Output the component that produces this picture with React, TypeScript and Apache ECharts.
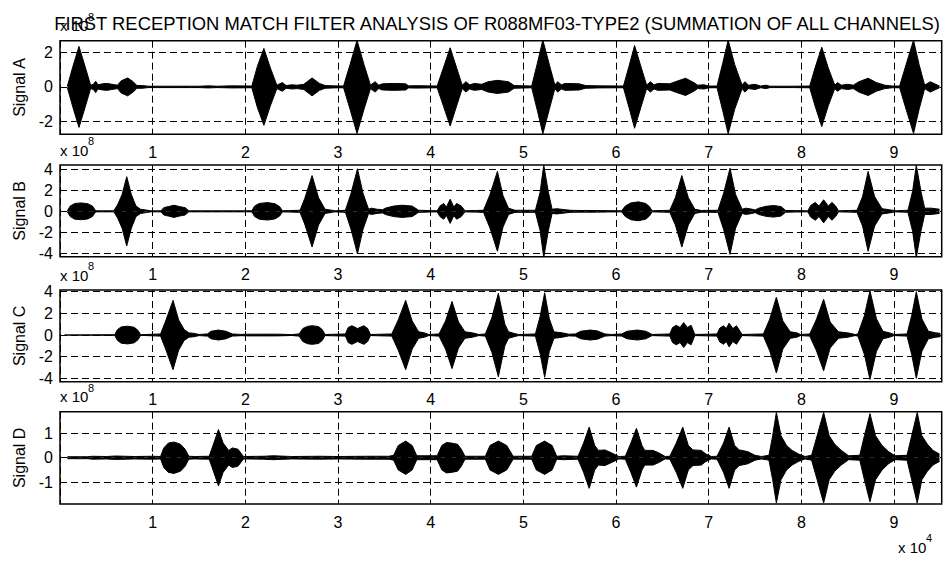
import React, { useEffect, useRef } from "react";
import * as echarts from "echarts";

// ---- values (x in units of 10^4 samples, amplitude in units of 10^8) ----
const TITLE = "FIRST RECEPTION MATCH FILTER ANALYSIS OF R088MF03-TYPE2 (SUMMATION OF ALL CHANNELS)";
const signalNames = ["Signal A", "Signal B", "Signal C", "Signal D"];
const xTickLabels = ["1", "2", "3", "4", "5", "6", "7", "8", "9"];
const yTicksA = [-2, 0, 2];
const yTicksB = [-4, -2, 0, 2, 4];
const yTicksC = [-4, -2, 0, 2, 4];
const yTicksD = [-1, 0, 1];
const yRangeA = [-2.75, 2.68];
const yRangeB = [-4.32, 4.41];
const yRangeC = [-4.31, 4.16];
const yRangeD = [-1.89, 1.88];
const xMax = 9.514;
const yExponent = "8";
const xExponent = "4";

// envelope of each signal: [x, amplitude]
const signalA: [number, number][] = [
  [0.08, 0.05], [0.14, 1.2], [0.205, 2.35], [0.27, 1.2], [0.33, 0.1], [0.36, 0.15], [0.385, 0.33], [0.41, 0.12],
  [0.46, 0.18], [0.51, 0.2], [0.56, 0.15], [0.62, 0.1], [0.66, 0.35], [0.73, 0.52], [0.79, 0.3], [0.83, 0.08],
  [0.89, 0.08], [0.95, 0.04], [1.5, 0.04], [1.6, 0.06], [1.7, 0.04], [1.85, 0.06], [2.07, 0.05], [2.13, 1.2],
  [2.2, 2.23], [2.27, 1.1], [2.34, 0.1], [2.4, 0.25], [2.44, 0.08], [2.5, 0.12], [2.56, 0.1], [2.63, 0.15],
  [2.72, 0.52], [2.8, 0.2], [2.86, 0.08], [2.95, 0.06], [3.06, 0.05], [3.13, 1.3], [3.205, 2.7], [3.28, 1.3],
  [3.35, 0.1], [3.4, 0.3], [3.44, 0.1], [3.48, 0.18], [3.6, 0.2], [3.73, 0.18], [3.76, 0.06], [3.85, 0.07],
  [4.07, 0.05], [4.14, 1.15], [4.21, 2.27], [4.28, 1.1], [4.34, 0.1], [4.38, 0.3], [4.42, 0.12], [4.47, 0.2],
  [4.55, 0.15], [4.62, 0.3], [4.72, 0.38], [4.84, 0.3], [4.9, 0.08], [5.09, 0.05], [5.15, 1.35], [5.21, 2.72],
  [5.28, 1.3], [5.34, 0.1], [5.37, 0.3], [5.41, 0.12], [5.45, 0.2], [5.6, 0.18], [5.67, 0.08], [5.8, 0.06],
  [6.08, 0.05], [6.14, 1.2], [6.2, 2.4], [6.27, 1.15], [6.33, 0.1], [6.37, 0.3], [6.41, 0.12], [6.45, 0.2],
  [6.58, 0.18], [6.64, 0.3], [6.75, 0.5], [6.84, 0.25], [6.88, 0.1], [6.95, 0.12], [7.0, 0.05], [7.09, 0.05],
  [7.15, 1.35], [7.21, 2.72], [7.28, 1.3], [7.36, 0.1], [7.39, 0.3], [7.43, 0.1], [7.5, 0.15], [7.56, 0.05],
  [7.62, 0.1], [7.66, 0.04], [7.9, 0.04], [8.09, 0.05], [8.15, 1.15], [8.22, 2.3], [8.29, 1.1], [8.36, 0.1],
  [8.39, 0.25], [8.43, 0.1], [8.5, 0.15], [8.56, 0.1], [8.62, 0.3], [8.72, 0.5], [8.81, 0.25], [8.9, 0.1],
  [8.98, 0.05], [9.06, 0.05], [9.13, 1.3], [9.21, 2.7], [9.27, 1.3], [9.33, 0.1], [9.39, 0.3], [9.45, 0.15],
  [9.49, 0.05],
];

const signalB: [number, number][] = [
  [0.08, 0.05], [0.11, 0.5], [0.16, 0.75], [0.23, 0.8], [0.3, 0.72], [0.35, 0.5], [0.385, 0.05], [0.58, 0.05],
  [0.62, 0.6], [0.67, 1.6], [0.72, 3.3], [0.77, 1.6], [0.82, 0.5], [0.87, 0.2], [0.93, 0.12], [0.98, 0.05],
  [1.09, 0.05], [1.12, 0.35], [1.17, 0.45], [1.23, 0.58], [1.29, 0.45], [1.35, 0.35], [1.39, 0.05], [2.07, 0.05],
  [2.1, 0.5], [2.15, 0.75], [2.24, 0.83], [2.32, 0.72], [2.37, 0.45], [2.4, 0.05], [2.59, 0.1], [2.64, 1.2],
  [2.72, 3.4], [2.79, 1.3], [2.86, 0.2], [2.97, 0.05], [3.08, 0.1], [3.14, 1.7], [3.21, 4.05], [3.27, 1.7],
  [3.33, 0.2], [3.36, 0.3], [3.42, 0.2], [3.48, 0.15], [3.51, 0.3], [3.6, 0.5], [3.69, 0.58], [3.8, 0.5],
  [3.87, 0.1], [4.07, 0.05], [4.1, 0.5], [4.14, 0.75], [4.17, 0.4], [4.21, 1.15], [4.25, 0.4], [4.28, 0.75],
  [4.33, 0.5], [4.37, 0.05], [4.57, 0.1], [4.64, 1.6], [4.72, 3.8], [4.78, 1.5], [4.84, 0.3], [4.91, 0.1],
  [5.13, 0.1], [5.18, 1.8], [5.22, 4.4], [5.27, 1.8], [5.31, 0.2], [5.36, 0.25], [5.45, 0.15], [5.51, 0.1],
  [5.6, 0.08], [5.75, 0.08], [6.06, 0.05], [6.1, 0.5], [6.16, 0.8], [6.24, 0.9], [6.32, 0.75], [6.36, 0.45],
  [6.39, 0.05], [6.58, 0.1], [6.64, 1.3], [6.71, 3.4], [6.78, 1.3], [6.85, 0.2], [6.92, 0.08], [7.1, 0.1],
  [7.16, 1.7], [7.23, 4.1], [7.29, 1.6], [7.36, 0.2], [7.4, 0.3], [7.47, 0.2], [7.5, 0.12], [7.54, 0.3],
  [7.62, 0.48], [7.7, 0.55], [7.78, 0.45], [7.83, 0.08], [8.07, 0.05], [8.1, 0.55], [8.15, 0.85], [8.19, 0.5],
  [8.24, 1.1], [8.29, 0.5], [8.33, 0.85], [8.37, 0.5], [8.4, 0.05], [8.6, 0.1], [8.66, 1.4], [8.72, 3.8],
  [8.79, 1.4], [8.87, 0.25], [8.95, 0.15], [9.02, 0.05], [9.15, 0.1], [9.2, 1.9], [9.24, 4.4], [9.29, 1.9],
  [9.33, 0.3], [9.4, 0.3], [9.49, 0.2],
];

const signalC: [number, number][] = [
  [0.05, 0.0], [0.59, 0.03], [0.62, 0.5], [0.66, 0.75], [0.73, 0.82], [0.8, 0.72], [0.84, 0.45], [0.87, 0.03],
  [1.085, 0.1], [1.14, 1.3], [1.22, 3.2], [1.28, 1.4], [1.34, 0.5], [1.39, 0.2], [1.45, 0.15], [1.5, 0.05],
  [1.59, 0.1], [1.63, 0.35], [1.71, 0.46], [1.79, 0.35], [1.86, 0.1], [1.95, 0.06], [2.05, 0.08], [2.2, 0.08],
  [2.35, 0.08], [2.5, 0.04], [2.58, 0.1], [2.62, 0.6], [2.67, 0.8], [2.72, 0.86], [2.79, 0.78], [2.83, 0.5],
  [2.86, 0.05], [3.08, 0.1], [3.11, 0.7], [3.15, 0.86], [3.21, 0.6], [3.28, 0.86], [3.32, 0.6], [3.35, 0.05],
  [3.58, 0.1], [3.65, 1.4], [3.73, 3.2], [3.8, 1.3], [3.87, 0.3], [3.93, 0.2], [3.98, 0.05], [4.09, 0.1],
  [4.16, 1.3], [4.23, 3.1], [4.3, 1.2], [4.37, 0.3], [4.45, 0.2], [4.52, 0.05], [4.59, 0.1], [4.66, 1.6],
  [4.73, 3.85], [4.8, 1.0], [4.84, 0.3], [4.9, 0.15], [4.95, 0.05], [5.13, 0.1], [5.18, 1.7], [5.23, 3.9],
  [5.28, 1.5], [5.33, 0.3], [5.42, 0.2], [5.49, 0.08], [5.56, 0.1], [5.62, 0.35], [5.72, 0.46], [5.8, 0.38],
  [5.88, 0.1], [5.95, 0.05], [6.06, 0.1], [6.12, 0.35], [6.23, 0.46], [6.32, 0.35], [6.39, 0.05], [6.58, 0.1],
  [6.61, 0.7], [6.65, 0.9], [6.69, 0.7], [6.73, 1.15], [6.77, 0.7], [6.81, 0.9], [6.85, 0.05], [7.09, 0.1],
  [7.12, 0.65], [7.16, 0.85], [7.19, 0.6], [7.22, 1.1], [7.26, 0.6], [7.3, 0.85], [7.36, 0.05], [7.59, 0.1],
  [7.66, 1.5], [7.73, 3.5], [7.8, 1.3], [7.88, 0.3], [7.95, 0.2], [7.99, 0.05], [8.09, 0.1], [8.16, 1.4],
  [8.24, 3.3], [8.31, 1.2], [8.4, 0.3], [8.5, 0.2], [8.58, 0.05], [8.61, 0.1], [8.68, 1.8], [8.74, 4.1],
  [8.81, 1.5], [8.88, 0.35], [8.95, 0.2], [9.0, 0.05], [9.14, 0.1], [9.19, 1.8], [9.24, 4.0], [9.3, 1.5],
  [9.37, 0.35], [9.45, 0.2], [9.5, 0.15],
];

const signalD: [number, number][] = [
  [0.08, 0.04], [0.3, 0.04], [0.35, 0.06], [0.5, 0.05], [0.6, 0.07], [0.8, 0.05], [1.0, 0.06], [1.085, 0.05],
  [1.12, 0.4], [1.17, 0.6], [1.23, 0.64], [1.3, 0.55], [1.35, 0.35], [1.39, 0.06], [1.45, 0.05], [1.61, 0.06],
  [1.66, 0.6], [1.71, 1.15], [1.76, 0.6], [1.82, 0.3], [1.86, 0.4], [1.92, 0.35], [1.98, 0.05], [2.2, 0.06],
  [2.3, 0.08], [2.5, 0.05], [2.8, 0.06], [3.0, 0.05], [3.3, 0.06], [3.55, 0.06], [3.6, 0.1], [3.65, 0.5],
  [3.73, 0.68], [3.8, 0.5], [3.85, 0.08], [4.07, 0.08], [4.12, 0.5], [4.17, 0.62], [4.22, 0.6], [4.29, 0.55],
  [4.33, 0.35], [4.37, 0.06], [4.59, 0.06], [4.64, 0.5], [4.73, 0.68], [4.82, 0.5], [4.89, 0.06], [5.09, 0.06],
  [5.14, 0.5], [5.23, 0.68], [5.31, 0.5], [5.36, 0.06], [5.43, 0.08], [5.59, 0.06], [5.65, 0.6], [5.71, 1.25],
  [5.77, 0.5], [5.81, 0.3], [5.88, 0.32], [5.95, 0.2], [6.03, 0.05], [6.1, 0.06], [6.16, 0.6], [6.22, 1.2],
  [6.28, 0.5], [6.31, 0.3], [6.4, 0.3], [6.46, 0.2], [6.53, 0.05], [6.58, 0.06], [6.65, 0.6], [6.72, 1.25],
  [6.78, 0.5], [6.83, 0.32], [6.92, 0.3], [6.97, 0.15], [7.03, 0.05], [7.09, 0.06], [7.16, 0.6], [7.22, 1.25],
  [7.28, 0.5], [7.33, 0.32], [7.42, 0.25], [7.5, 0.1], [7.57, 0.05], [7.65, 0.1], [7.69, 0.9], [7.73, 1.85],
  [7.78, 0.9], [7.84, 0.5], [7.9, 0.3], [7.97, 0.15], [8.04, 0.05], [8.11, 0.1], [8.17, 0.9], [8.24, 1.85],
  [8.3, 0.9], [8.36, 0.55], [8.43, 0.3], [8.51, 0.08], [8.63, 0.1], [8.68, 0.9], [8.74, 1.8], [8.8, 0.9],
  [8.87, 0.5], [8.94, 0.25], [9.01, 0.08], [9.14, 0.1], [9.19, 0.9], [9.25, 1.85], [9.3, 0.9], [9.36, 0.55],
  [9.42, 0.3], [9.49, 0.15],
];

const FONT = "'Liberation Sans', Arial, Helvetica, sans-serif";

export default function App() {
  const ref = useRef<HTMLDivElement>(null);

  useEffect(() => {
    if (!ref.current) return;
    const chart = echarts.init(ref.current, null, { renderer: "svg" });

    const panels = [
      { name: signalNames[0], data: signalA, range: yRangeA, ticks: yTicksA, top: 40.7, height: 93.6 },
      { name: signalNames[1], data: signalB, range: yRangeB, ticks: yTicksB, top: 165, height: 91.7 },
      { name: signalNames[2], data: signalC, range: yRangeC, ticks: yTicksC, top: 290, height: 91.7 },
      { name: signalNames[3], data: signalD, range: yRangeD, ticks: yTicksD, top: 411.7, height: 92.3 },
    ];
    const left = 60;
    const width = 881.7;

    const grid = panels.map((p) => ({
      left,
      width,
      top: p.top,
      height: p.height,
      show: true,
      borderColor: "#000",
      borderWidth: 1.5,
      backgroundColor: "transparent",
      containLabel: false,
      outerBoundsMode: "none",
    }));

    const dash = [7, 4];

    const xAxis = panels.map((_, i) => ({
      type: "value",
      gridIndex: i,
      min: 0,
      max: xMax,
      interval: 1,
      axisLine: { show: false },
      axisTick: { show: true, inside: true, length: 4, lineStyle: { color: "#000" } },
      axisLabel: {
        show: true,
        showMinLabel: false,
        showMaxLabel: false,
        color: "#000",
        fontSize: 16,
        fontFamily: FONT,
        margin: 10,
        formatter: (v: number) => xTickLabels[Math.round(v) - 1] ?? "",
      },
      splitLine: { show: true, lineStyle: { color: "#000", type: dash, width: 1 } },
    }));

    const yAxis = panels.map((p, i) => ({
      type: "value",
      gridIndex: i,
      min: p.range[0],
      max: p.range[1],
      name: p.name,
      nameLocation: "middle",
      nameGap: 33,
      nameTextStyle: { color: "#000", fontSize: 16, fontFamily: FONT },
      axisLine: { show: false },
      axisTick: { show: true, inside: true, length: 4, lineStyle: { color: "#000" }, customValues: p.ticks },
      axisLabel: {
        show: true,
        color: "#000",
        fontSize: 16,
        fontFamily: FONT,
        margin: 7,
        customValues: p.ticks,
        formatter: (v: number) => String(v),
      },
      splitLine: { show: true, lineStyle: { color: "#000", type: dash, width: 1 } },
    }));

    const series: any[] = [];
    panels.forEach((p, i) => {
      const common = {
        type: "line",
        xAxisIndex: i,
        yAxisIndex: i,
        showSymbol: false,
        symbol: "none",
        silent: true,
        clip: true,
        lineStyle: { color: "#000", width: 1 },
        areaStyle: { color: "#000", opacity: 1, origin: 0 },
        z: 3,
      };
      series.push({ ...common, name: p.name + " +", data: p.data.map(([x, a]) => [x, a]) });
      series.push({ ...common, name: p.name + " -", data: p.data.map(([x, a]) => [x, -a]) });
    });

    const textStyle = (text: string, fontSize: number, align: string) => ({
      text,
      align,
      verticalAlign: "middle",
      textAlign: align,
      textVerticalAlign: "middle",
      fontSize,
      fontFamily: FONT,
      fill: "#000",
    });

    const graphic: any[] = [
      { type: "text", x: 497, y: 23, z: 10, style: textStyle(TITLE, 18.4, "center") },
    ];
    panels.forEach((p) => {
      graphic.push({ type: "text", x: 60, y: p.top - 15, z: 11, style: textStyle("x 10", 15, "left") });
      graphic.push({ type: "text", x: 88, y: p.top - 24, z: 11, style: textStyle(yExponent, 11, "left") });
    });
    graphic.push({ type: "text", x: 898, y: 547, style: textStyle("x 10", 15, "left") });
    graphic.push({ type: "text", x: 926, y: 538, style: textStyle(xExponent, 11, "left") });

    chart.setOption({
      animation: false,
      backgroundColor: "#fff",
      textStyle: { fontFamily: FONT },
      grid,
      xAxis,
      yAxis,
      series,
      graphic,
    } as any);

    return () => {
      chart.dispose();
    };
  }, []);

  return (
    <div
      ref={ref}
      style={{ position: "fixed", left: 0, top: 0, width: 947, height: 561, background: "#fff" }}
    />
  );
}
